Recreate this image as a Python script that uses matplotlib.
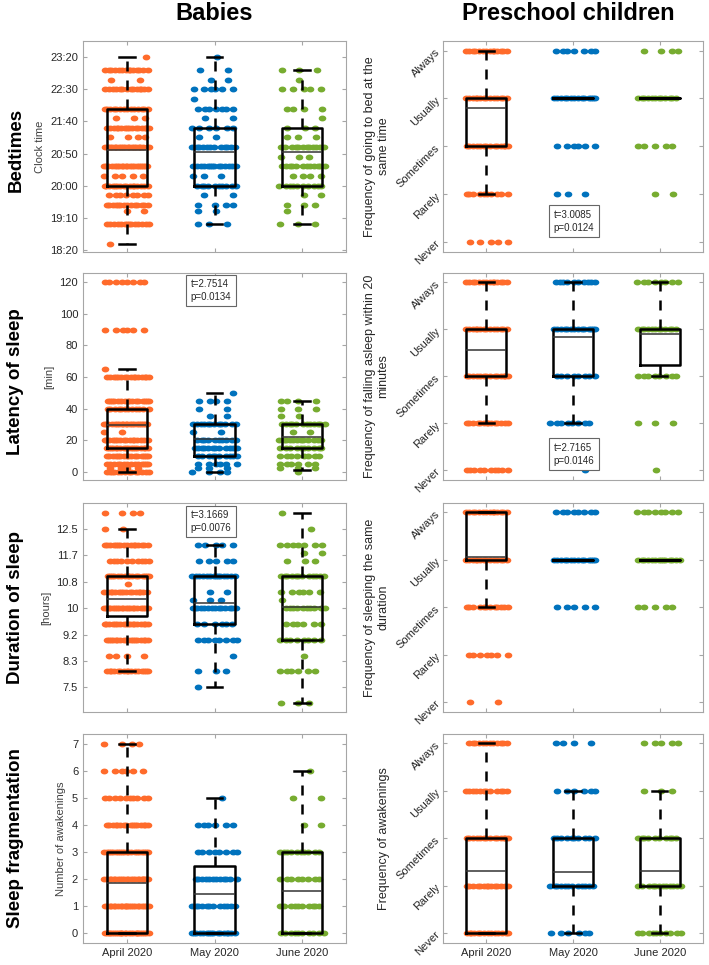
import numpy as np
import matplotlib
matplotlib.use("Agg")
import matplotlib.pyplot as plt

plt.rcParams['font.family'] = ['Liberation Sans', 'DejaVu Sans']

months = ["April 2020", "May 2020", "June 2020"]
colors = ["#FF6B2B", "#0072BD", "#77AC30"]

# ---- babies: bedtimes (minutes after midnight) ----
bed_levels = [1110, 1140, 1160, 1170, 1185, 1200, 1215, 1230, 1245, 1260,
              1275, 1290, 1305, 1320, 1335, 1350, 1365, 1380, 1400]
bed_counts = [
    [1, 14, 2, 14, 8, 16, 5, 20, 0, 20, 4, 16, 3, 14, 0, 14, 2, 14, 1],
    [0, 3, 2, 4, 2, 10, 3, 14, 0, 12, 2, 6, 2, 7, 1, 6, 2, 2, 1],
    [0, 3, 1, 3, 2, 10, 4, 12, 3, 12, 3, 3, 1, 4, 0, 5, 1, 3, 0],
]
bed_q1 = [1200, 1200, 1200]
bed_q3 = [1320, 1290, 1290]
bed_mean = [1255, 1253, 1252]
bed_lo = [1110, 1140, 1140]
bed_hi = [1400, 1400, 1380]
bed_ticks = [1100, 1150, 1200, 1250, 1300, 1350, 1400]
bed_ticklabels = ["18:20", "19:10", "20:00", "20:50", "21:40", "22:30", "23:20"]

# ---- babies: latency of sleep [min] ----
lat_levels = [0, 2, 5, 10, 15, 20, 25, 30, 35, 40, 45, 50, 60, 65, 90, 120]
lat_counts = [
    [14, 4, 14, 16, 18, 16, 2, 20, 0, 12, 16, 0, 16, 1, 6, 8],
    [4, 3, 6, 10, 12, 10, 2, 12, 2, 2, 4, 1, 0, 0, 0, 0],
    [1, 3, 6, 8, 10, 12, 2, 12, 2, 3, 4, 0, 0, 0, 0, 0],
]
lat_q1 = [15, 10, 15]
lat_q3 = [40, 30, 30]
lat_mean = [29.5, 21, 22]
lat_lo = [0, 0, 1]
lat_hi = [65, 50, 45]

# ---- babies: duration of sleep [hours] ----
dur_levels = [7, 7.5, 8, 8.5, 9, 9.5, 10, 10.25, 10.5, 10.75, 11, 11.5,
              11.75, 12, 12.5, 13]
dur_counts = [
    [0, 0, 16, 4, 18, 18, 20, 0, 16, 1, 16, 10, 0, 16, 2, 4],
    [0, 1, 3, 1, 8, 6, 14, 3, 2, 0, 14, 5, 0, 5, 0, 0],
    [3, 0, 6, 1, 8, 6, 10, 1, 6, 0, 12, 3, 2, 7, 1, 1],
]
dur_q1 = [9.75, 9.5, 9.0]
dur_q3 = [11, 11, 11]
dur_mean = [10.3, 10.15, 10.05]
dur_lo = [8, 7.5, 7]
dur_hi = [12.5, 12, 13]
dur_ticks = [7.5, 8.3333, 9.1667, 10, 10.8333, 11.6667, 12.5]
dur_ticklabels = ["7.5", "8.3", "9.2", "10", "10.8", "11.7", "12.5"]

# ---- babies: number of awakenings ----
frag_levels = [0, 1, 2, 3, 4, 5, 6, 7]
frag_counts = [
    [24, 22, 22, 20, 16, 10, 6, 4],
    [16, 12, 12, 8, 6, 1, 0, 0],
    [10, 10, 8, 10, 2, 2, 1, 0],
]
frag_q1 = [0, 0, 0]
frag_q3 = [3, 2.5, 3]
frag_mean = [1.85, 1.47, 1.57]
frag_lo = [0, 0, 0]
frag_hi = [7, 5, 6]

# ---- preschool children: frequency answers ----
freq_levels = [1, 2, 3, 4, 5]
freq_labels = ["Never", "Rarely", "Sometimes", "Usually", "Always"]

bedsame_counts = [[5, 10, 14, 14, 14], [0, 3, 6, 14, 7], [0, 2, 5, 12, 4]]
bedsame_q1 = [3, 4, 4]
bedsame_q3 = [4, 4, 4]
bedsame_mean = [3.79, 4, 4]
bedsame_lo = [2, 4, 4]
bedsame_hi = [5, 4, 4]

asleep_counts = [[10, 14, 14, 14, 14], [1, 8, 8, 14, 10], [1, 3, 8, 12, 8]]
asleep_q1 = [3, 3, 3.25]
asleep_q3 = [4, 4, 4]
asleep_mean = [3.56, 3.84, 3.91]
asleep_lo = [2, 2, 3]
asleep_hi = [5, 5, 5]

dursame_counts = [[2, 7, 12, 14, 14], [0, 0, 5, 14, 8], [0, 0, 5, 14, 8]]
dursame_q1 = [4, 4, 4]
dursame_q3 = [5, 4, 4]
dursame_mean = [4.07, 4, 4]
dursame_lo = [3, 4, 4]
dursame_hi = [5, 4, 4]

wake_counts = [[14, 14, 14, 12, 12], [6, 12, 10, 6, 4], [10, 12, 10, 3, 5]]
wake_q1 = [1, 2, 2]
wake_q3 = [3, 3, 3]
wake_mean = [2.30, 2.28, 2.30]
wake_lo = [1, 1, 1]
wake_hi = [5, 4, 4]

SPINE = "#a6a6a6"
TICKSIZE = 8

# slightly wide dot, like the original
_t = np.linspace(0, 2 * np.pi, 40)
DOT = np.column_stack([1.3 * np.cos(_t), np.sin(_t)])


def spread(n, k, half=0.26):
    # deterministic horizontal spreading of points on one level
    i = np.arange(n)
    frac = (i * 0.618034 + 0.377 * k + 0.13) % 1.0
    return (frac - 0.5) * 2 * half


def panel(ax, levels, counts, q1, mean, q3, lo, hi):
    for g in range(3):
        xs, ys = [], []
        for li, (lv, n) in enumerate(zip(levels, counts[g])):
            if n == 0:
                continue
            xs.extend(g + 1 + spread(n, li + 7 * g))
            ys.extend([lv] * n)
        ax.scatter(xs, ys, s=30, marker=DOT, color=colors[g], linewidths=0,
                   zorder=2)
    stats = []
    for g in range(3):
        stats.append(dict(med=mean[g], q1=q1[g], q3=q3[g],
                          whislo=lo[g], whishi=hi[g], fliers=[]))
    art = ax.bxp(stats, positions=[1, 2, 3], widths=0.46, capwidths=0.18,
                 showfliers=False, manage_ticks=False, zorder=3,
                 boxprops=dict(color="black", linewidth=1.8),
                 whiskerprops=dict(color="black", linewidth=1.8,
                                   linestyle=(0, (4, 3.6))),
                 capprops=dict(color="black", linewidth=1.8),
                 medianprops=dict(color="#333333", linewidth=1.1))
    for g, m in enumerate(art["medians"]):
        if q1[g] == q3[g]:
            m.set_color("black")
            m.set_linewidth(1.8)
    ax.set_xlim(0.5, 3.5)
    ax.set_xticks([1, 2, 3])
    for sp in ax.spines.values():
        sp.set_color(SPINE)
        sp.set_linewidth(0.8)
    ax.tick_params(direction="in", top=True, right=True, length=3,
                   color=SPINE, labelsize=TICKSIZE, labelcolor="#262626")
    ax.tick_params(labelbottom=False)


fig = plt.figure(figsize=(7.09, 9.65), dpi=100)
W, H = 709.0, 965.0
rows = [(41, 252), (273, 480), (503, 712), (734, 943)]


def make_ax(x0, x1, row):
    t, b = rows[row]
    return fig.add_axes([x0 / W, 1 - b / H, (x1 - x0) / W, (b - t) / H])


left = [make_ax(83, 346, r) for r in range(4)]
right = [make_ax(443, 703, r) for r in range(4)]

# babies column
ax = left[0]
panel(ax, bed_levels, bed_counts, bed_q1, bed_mean, bed_q3, bed_lo, bed_hi)
ax.set_ylim(1097, 1425)
ax.set_yticks(bed_ticks)
ax.set_yticklabels(bed_ticklabels)
ax.set_ylabel("Clock time", fontsize=8, color="#404040")

ax = left[1]
panel(ax, lat_levels, lat_counts, lat_q1, lat_mean, lat_q3, lat_lo, lat_hi)
ax.set_ylim(-5.3, 125.9)
ax.set_yticks(range(0, 121, 20))
ax.set_ylabel("[min]", fontsize=8, color="#404040")

ax = left[2]
panel(ax, dur_levels, dur_counts, dur_q1, dur_mean, dur_q3, dur_lo, dur_hi)
ax.set_ylim(6.72, 13.32)
ax.set_yticks(dur_ticks)
ax.set_yticklabels(dur_ticklabels)
ax.set_ylabel("[hours]", fontsize=8, color="#404040")

ax = left[3]
panel(ax, frag_levels, frag_counts, frag_q1, frag_mean, frag_q3, frag_lo,
      frag_hi)
ax.set_ylim(-0.36, 7.37)
ax.set_yticks(range(0, 8))
ax.set_ylabel("Number of awakenings", fontsize=8, color="#404040")

# preschool column
pre = [
    (bedsame_counts, bedsame_q1, bedsame_mean, bedsame_q3, bedsame_lo,
     bedsame_hi, "Frequency of going to bed at the\nsame time"),
    (asleep_counts, asleep_q1, asleep_mean, asleep_q3, asleep_lo, asleep_hi,
     "Frequency of falling asleep within 20\nminutes"),
    (dursame_counts, dursame_q1, dursame_mean, dursame_q3, dursame_lo,
     dursame_hi, "Frequency of sleeping the same\nduration"),
    (wake_counts, wake_q1, wake_mean, wake_q3, wake_lo, wake_hi,
     "Frequency of awakenings"),
]
for r, (cnt, a, m, b, lo, hi, lab) in enumerate(pre):
    ax = right[r]
    panel(ax, freq_levels, cnt, a, m, b, lo, hi)
    ax.set_ylim(0.79, 5.2)
    ax.set_yticks(freq_levels)
    ax.set_yticklabels(freq_labels, rotation=45, ha="right", va="center",
                       rotation_mode="anchor")
    ax.set_ylabel(lab, fontsize=9, color="#262626")

for ax in (left[3], right[3]):
    ax.tick_params(labelbottom=True)
    ax.set_xticklabels(months)

# test statistics boxes
tests = [
    (left[1], 0.41, 0.97, "t=2.7514\np=0.0134"),
    (left[2], 0.41, 0.965, "t=3.1669\np=0.0076"),
    (right[0], 0.425, 0.2, "t=3.0085\np=0.0124"),
    (right[1], 0.425, 0.18, "t=2.7165\np=0.0146"),
]
for ax, x, y, s in tests:
    ax.text(x, y, s, transform=ax.transAxes, fontsize=7, ha="left",
            va="top", color="#262626", zorder=5, linespacing=1.35,
            bbox=dict(boxstyle="square,pad=0.45", facecolor="white",
                      edgecolor="#666666", linewidth=0.8))

# column and row titles
fig.text(214 / W, 1 - 13 / H, "Babies", fontsize=17, fontweight="bold",
         ha="center", va="center")
fig.text(568 / W, 1 - 13 / H, "Preschool children", fontsize=17,
         fontweight="bold", ha="center", va="center")
row_names = ["Bedtimes", "Latency of sleep", "Duration of sleep",
             "Sleep fragmentation"]
row_centers = [150, 382, 608, 838]
for name, yc in zip(row_names, row_centers):
    fig.text(16 / W, 1 - yc / H, name, fontsize=13.5, fontweight="bold",
             rotation=90, ha="center", va="center")

fig.savefig("out.png", dpi=100)
